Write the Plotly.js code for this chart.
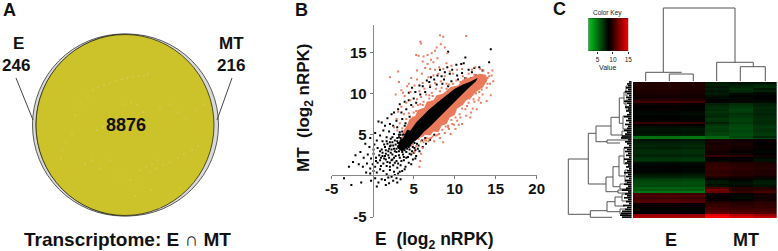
<!DOCTYPE html>
<html><head><meta charset="utf-8">
<script src="https://cdn.plot.ly/plotly-3.0.1.min.js"></script>
<style>html,body{margin:0;padding:0;background:#fff}#c{width:778px;height:251px}</style>
</head><body><div id="c"></div>
<script>
/* ---------- Panel A values ---------- */
const vennCounts = {E: "246", MT: "216", both: "8876"};
const vennSpeckX = [93,98,104,110,116,122,127,133,139,144,148,88,80,75,125,131,137,143,160,170,178,186,196,204,97,103,109,72,66,62,61,150,156,163,170,178,184,192,198,140,146,152,158,85,92,100,110,120,135,151,160,180,130,136];
const vennSpeckY = [90,87,85,83,81,79,78,77,76,75,74,96,104,115,104,102,105,112,108,104,112,118,110,104,130,127,124,134,142,150,158,172,168,165,162,158,154,150,146,170,167,164,160,164,160,168,160,176,196,190,208,188,180,184];

/* ---------- Panel B values ---------- */
const coreX = [3,3.3,3.7,4.2,4.6,5.3,6,6.8,8,9,10,11,11.8,12.8,12.6,11.6,11,10,9,8.2,7,6.2,5.6,5,4.5,4,3.6];
const coreY = [3.4,4.4,4.6,5.6,5.5,6.5,7.2,8.0,9.0,9.8,10.6,11.1,11.4,11.9,11.5,10.6,10.0,9.0,8.0,7.1,6.0,5.3,4.6,4.1,3.6,3.3,2.9];
const haloX = [3.6,4.2,4.5,5.2,5.5,6.3,6.6,7.4,7.8,8.6,9.5,10.4,11,12,13,13.8,14,13.5,12.6,12,11.4,11,10.3,10,9.4,9,8.4,8,7.4,7,6.4,6,5.2];
const haloY = [5.2,6.2,6.9,7.3,8.0,8.3,9.0,9.2,9.8,10,10.8,11,11.7,12,12.4,12.3,11.7,10.8,10.2,9.5,9.2,8.6,8.2,7.4,7.1,6.3,6.1,5.3,5.4,4.9,5,4.7,4.6];
const orangePts = [[8.2,17.1],[8.6,16.9],[5.8,16.3],[5.9,16.1],[11.4,17],[2.1,12],[3.1,12.7],[5.3,14.7],[5.6,14.6],[6.2,14.5],[6.7,14.7],[7.2,14.9],[7.6,15.2],[7.8,15.6],[8.3,16],[8.8,15.6],[9.1,14.9],[7.1,14.1],[6.7,13.6],[7.4,13.8],[7.9,14.3],[6.1,13.9],[6.4,13.1],[7.6,12.9],[8.1,13.2],[8.6,13],[9.4,12.7],[8,12.4],[7.4,12.2],[6.8,12],[8.8,12.1],[9.8,12.4],[10.3,12.9],[4.7,11.9],[5.4,11.7],[6.1,11.3],[5.1,11],[4.2,10.9],[3.5,10.4],[2.8,9.9],[3.2,11.4],[3.9,9.7],[4.6,10.2],[5.7,10.3],[6.3,10.6],[7,11],[7.6,11.3],[8.3,11.5],[9,11.2],[4.1,8.9],[4.6,9.2],[3.5,8.4],[3.1,7.8],[3.8,7.5],[2.9,6.9],[2.6,5.9],[3.3,6.4],[4.9,8.4],[5.4,9.3],[5.9,9.6],[6.5,9.9],[7.2,10.1],[12.1,12.9],[12.5,13.2],[13.1,13],[13.5,12.8],[14.1,12.5],[14.5,12.2],[14.7,11.5],[14.3,11.2],[13.9,10.7],[14.4,9.8],[13.4,9.9],[13,9.5],[12.4,9],[13.9,9.1],[14,11.9],[14.6,12.8],[13.3,10.5],[12.6,10],[11.7,8.9],[12.2,8.2],[11.3,8.1],[11.4,7.3],[10.7,7.1],[10.3,6.7],[9.9,6.2],[9.3,5.7],[8.8,5.2],[9.5,5.1],[8.2,4.6],[7.5,4.2],[7.1,4.6],[6.5,4.3],[6.2,4.1],[6.1,3.4],[5.9,2.7],[5.8,1.8],[5.7,1.1],[5.3,3.6],[4.9,3.8],[5.1,2.9],[8.6,4.1],[10.1,5.7],[10.9,6.3],[11.9,7.1],[12.7,8.1],[3.4,3.9],[3.7,4.7],[4.3,5.2],[6.6,4.6],[7.7,4.9],[9.2,6.1],[10.6,7.5],[11.5,8.5],[12.3,9.3],[13,10.2],[3,5.5],[3.6,5.8],[4.1,6.9],[4.4,7.6],[5,7.7],[5.5,8.6],[6.2,9],[6.9,9.8],[7.7,10.6],[8.4,10.7],[9.3,11.1],[10.2,11.6],[11,12.1],[11.7,12.4],[12.4,12.3],[13.2,11.9],[13.8,11.5],[14.2,12.1],[12.9,9.2],[13.2,8.9],[12,7.7],[10.5,6.2],[9.6,6.8],[8.9,6],[8.1,5.1],[7.3,4.8],[6.8,4.2],[5.6,4.5],[9,13.7],[9.6,13.4],[10.9,13],[7,13],[6,12.4],[5.4,12.8],[4.4,11.2],[3.7,10.1],[4.9,7.1],[5.3,7.9],[5.8,8.7],[6.1,8.6],[6.9,9.4],[7.3,9.7],[8.2,10.3],[9,10.6],[9.8,11.2],[10.7,11.4],[11.4,11.9],[12.3,10.1],[11.8,9.4],[10.9,8.2],[10.1,7.1],[9.7,6.3],[9.2,5.9],[8.5,5.6],[7.9,5],[6.9,4.5],[6.3,4.4],[5.9,4.2],[12.9,10.6],[13.5,11.4],[14,11.2]];
const blackPts = [[14.4,15.4],[14.2,13.8],[11.3,14.4],[11.1,13.7],[10.8,13.6],[9.2,15.1],[10.2,13.5],[12.4,13.1],[13,13.2],[13.4,12.8],[12.1,12.6],[11.7,12.9],[10.9,12.5],[10.3,12.2],[9.7,12.9],[9.4,12.4],[9.1,13.2],[8.8,12.6],[8.4,12.1],[8.2,12.9],[7.9,12.2],[7.5,11.7],[7.1,12],[6.9,11.4],[6.6,11.6],[8.7,11.7],[9.6,11.5],[10.4,11.7],[11.3,11.9],[12,11.9],[12.6,12.2],[6.1,10.9],[5.7,11],[5.2,10.2],[4.8,10.7],[4.4,10.1],[7,10.8],[7.8,11.1],[8.5,11.2],[9.2,10.9],[6.4,10.2],[5.8,9.9],[5,9.4],[4.4,9.2],[3.9,9],[3.3,8.7],[3.1,8.1],[2.6,7.7],[2.3,7.5],[1.8,7],[2.1,6.3],[1.5,6.1],[1.1,6.5],[1.3,5.5],[0.7,6.6],[3.5,7.7],[4.1,8.1],[4.7,8.6],[5.3,8.9],[2.9,6.7],[3.6,6.9],[2.5,6.1],[3,5.9],[2,5.4],[2.6,5.1],[1.7,4.7],[2.2,4.5],[1.2,4.2],[1.8,3.9],[0.9,4.9],[0.5,4.3],[0.2,3.8],[0.6,3.4],[1.1,3.2],[1.5,3.5],[2,3.3],[2.5,3.7],[3,4.2],[3.4,4.6],[3.8,5.1],[4.2,4.7],[-0.4,3.5],[-0.9,3.9],[-1.5,2.9],[-2.1,2.5],[-2.4,1.7],[-2.9,1.1],[-1.1,2.2],[-0.6,2.6],[-0.2,2.1],[0.1,2.7],[0.4,2.2],[0.8,2.5],[1.2,2.4],[1.6,2.7],[2,2.2],[2.4,2],[2.8,2.4],[3.2,3],[3.6,3.3],[4,3.7],[4.4,4],[-1.7,1.4],[-1.2,1.1],[-0.7,1.5],[-0.3,0.9],[0,1.4],[0.3,1.1],[0.6,1.6],[0.9,1.9],[1.3,1.5],[1.7,1.2],[2.1,1.6],[2.5,1.3],[2.9,1.8],[3.3,2.2],[3.7,2.6],[4.1,2.9],[4.5,3.2],[4.9,3.5],[-0.8,0.4],[-0.3,0.3],[0.1,0.6],[0.5,0.4],[0.9,0.8],[1.3,0.6],[1.7,0.2],[2.1,0.7],[2.6,0.5],[3,1],[3.4,1.3],[3.8,1.9],[4.3,2.3],[4.7,2.6],[5.2,3.1],[5.6,3.7],[1.9,-0.2],[2.3,-0.1],[2.7,0.1],[3.1,0.3],[1.5,-0.5],[1.1,-0.4],[0.7,-0.8],[0.3,-0.3],[-0.2,-0.6],[-1.4,-0.8],[-2.6,-1.1],[-3.5,-0.3],[2,-0.9],[2.5,-0.6],[3,-0.8],[3.4,-0.4],[1.6,-1.1],[0.5,-1.3],[3.6,0.6],[4,1.1],[4.4,1.6],[4.9,2],[5.3,2.4],[5.7,3],[6.1,3.5],[6.5,3.9],[7,4.4],[7.5,5],[2.2,2.8],[2.7,3],[3.1,3.6],[3.5,4],[3.9,4.4],[4.3,4.3],[4.6,4.8],[5,5],[1.4,2.1],[1.9,2.5],[2.3,3.2],[2.8,3.8],[3.2,4.7],[3.6,5.4],[4.1,5.6],[4.5,6.1],[4.9,6.6],[4,6.4],[3.3,5.3],[2.4,4.1],[1.6,3.1],[1,1.2],[0.4,1.8],[4.8,4.1],[3.4,3.3],[2.9,2.9],[3.9,3.1],[4.4,3.5],[5.1,4],[4.5,7.2],[3.9,6.1],[3.2,5],[2.2,3.7],[1.5,2.4],[0.9,3],[0.1,3.2],[-0.3,4.6],[0.3,5.2],[4.7,1.4],[5.2,2.1],[3.9,0.8],[2.9,-0.3],[3.3,0.5],
[2.1,1.1],[2.3,1.9],[2.6,2.2],[2.7,1.6],[3.1,1.5],[3.2,2.5],[3.5,1.8],[3.6,2.9],[3.8,2.3],[4.1,2.2],[4.2,3.3],[4.5,2.7],[4.6,3.7],[4.8,3],[5,2.8],[5.1,3.4],[5.4,3.9],[5.5,3.3],[6,4.3],[6.4,4.6],[1.8,1.7],[1.6,2],[1.2,2.8],[1,2.2],[1.9,3],[2.1,3.6],[2.4,2.6],[2.6,3.3],[2.9,3.3],[3.1,4],[3.3,3.6],[3.5,4.4],[3.7,3.9],[3.7,5],[3.4,5],[3,4.6],[2.7,4.3],[2.4,4.7],[2.1,4.1],[1.7,4.2],[1.4,3.8],[4,4.9],[4.2,5.3]];

/* ---------- Panel C values ---------- */
const columns = ["E1","E2","E3","MT1","MT2","MT3"];
const rowE = [9.3,9.4,9.3,9.4,9.2,9.2,9.1,8.9,9.0,9.5,10.2,8.8,8.6,8.5,8.6,8.3,8.2,8.4,8.5,8.4,8.6,9.9,8.6,8.1,7.8,7.9,8.0,7.6,4.8,4.5,7.9,7.6,7.4,7.2,7.5,7.1,7.0,7.2,7.4,6.9,6.8,7.2,8.1,8.3,8.5,8.3,8.4,8.2,7.7,7.4,6.6,6.2,6.0,5.9,6.1,5.4,5.6,4.6,10.1,10.5,10,10.4,10.7,8.7,8.6,8.5,8.4,8.6,8.5,12.4,12.8];
const rowM1 = [7.6,7.4,7.8,7.5,7.9,7.7,7.6,8.0,8.2,8.4,8.5,7.4,7.2,6.9,7.1,6.8,7.0,7.2,7.1,6.7,6.9,7.4,6.8,6.4,6.5,6.6,6.3,6.2,5.2,4.9,9.1,9.2,9.0,9.3,9.2,9.1,8.9,9.0,9.9,8.6,8.4,8.2,9.6,9.8,9.9,9.9,9.7,9.6,9.9,9.4,8.4,7.8,7.6,8.1,7.9,10.4,11.4,11.0,8.9,8.7,8.6,8.7,9.3,9.8,9.9,10.1,10.2,10.4,10.9,14.2,15];
const rowM2 = [7.9,7.6,7.3,6.9,7.2,7.5,8.2,8.4,8.3,8.2,8.4,7.0,6.8,6.6,6.3,6.5,6.9,6.7,6.6,6.4,6.3,6.6,6.2,6.1,6.0,6.2,6.0,5.9,6.2,5.4,9.0,9.0,9.2,9.0,8.9,8.8,8.6,8.9,9.6,8.5,8.7,8.4,9.4,9.5,9.6,9.7,9.5,9.4,9.5,9.1,8.7,8.2,7.9,8.0,8.3,9.4,9.5,9.9,8.7,8.3,8.2,8.6,9.2,9.5,9.7,9.8,10,10.2,10.6,13,14];
const rowM3 = [8.0,7.3,7.0,7.8,7.4,8.1,8.3,8.5,8.6,8.4,8.2,7.5,7.4,7.1,7.3,7.2,7.4,7.3,7.2,7.0,7.1,7.2,6.9,6.6,6.8,6.9,6.6,6.5,7.2,6.2,8.7,8.7,8.5,8.7,8.6,8.4,8.3,8.5,8.9,8.2,8.0,8.0,9.2,9.3,9.4,9.5,9.3,9.4,9.3,8.8,8.2,7.7,7.5,7.7,7.9,9.3,9.6,10.4,9.1,9.0,8.9,9.0,9.5,9.7,9.8,9.8,10,10.2,10.5,12.4,13.4];
const heatValues = rowE.map((v,i)=>[v,v+0.05,v-0.05,rowM1[i],rowM2[i],rowM3[i]]);
const keyValues = [2,3,4,5,6,7,8,8.5,9,10,11,12,13,14,15];
const keyTicks = [5,10,15];
const redGreen = [[0,"#00c41e"],[0.5,"#000000"],[1,"#ff0000"]];

/* dendrogram paths, given as [x...],[y...] in page units */
const dendroTop = [
 [[645.7,645.7,681.7],[81,72.3,72.3]],
 [[669.3,669.3,693.3,693.3],[81,74,74,81]],
 [[663.3,663.3,735,735],[72.3,8,8,62.3]],
 [[716.7,716.7,753.3,753.3],[81,62.3,62.3,66.7]],
 [[740.3,740.3,765.3,765.3],[81,66.7,66.7,81]]
];
const dendroLeft = [
 [[590.3,568.3,568.3,588.3],[214.3,214.3,159,159]],
 [[596,588.3,588.3,606],[133.3,133.3,184,184]],
 [[611,596,596,607],[126,126,141.7,141.7]],
 [[619.3,611,611,622],[117.3,117.3,135,135]],
 [[624,619.3,619.3,623],[98,98,123.3,123.3]],
 [[626,624,624,626],[92,92,104,104]],
 [[628,626,626,628],[86,86,96,96]],
 [[628,626,626,628],[100,100,109,109]],
 [[627,623,623,627],[116,116,129,129]],
 [[628,622,622,628],[131,131,138,138]],
 [[628,607,607,620],[140,140,143,143]],
 [[613,606,606,618],[177,177,191.7,191.7]],
 [[619,613,613,620],[166.7,166.7,186.7,186.7]],
 [[624,619,619,625],[156,156,176,176]],
 [[627,624,624,627],[148,148,164,164]],
 [[628,625,625,628],[170,170,182,182]],
 [[628,620,620,628],[184,184,189,189]],
 [[628,618,618,628],[190,190,193,193]],
 [[607,590.3,590.3,612],[210.7,210.7,217.3,217.3]],
 [[615,607,607,620],[201.7,201.7,211.7,211.7]],
 [[622,615,615,625],[197,197,206,206]],
 [[628,622,622,628],[194,194,201,201]],
 [[628,620,620,628],[209,209,214,214]]
];
const leafStart = [629,627,628,626,628,625,627,629,626,628,624,627,629,625,628,626,629,627,624,628,626,629,625,628,627,624,627,625,622,621,628,625,627,629,624,627,625,628,626,629,624,627,625,628,626,629,627,624,628,626,629,625,627,624,628,626,622,628,625,627,624,628,626,629,623,627,625,622,621,620,622];

/* ---------- Page-pixel helpers for placing the panels ---------- */
const W=778,H=251;
const dx=(a,b)=>[a/W,b/W], dy=(t,b)=>[1-b/H,1-t/H];
const FONT="Liberation Sans, Arial, sans-serif";
const pageAxes={xaxis:"x3",yaxis:"y3"};
const traces=[];

/* panel B: sparse black first, the orange cloud over it, dense black core on top */
traces.push({type:"scatter",mode:"markers",x:blackPts.map(p=>p[0]),y:blackPts.map(p=>p[1]),marker:{size:2,color:"#000",symbol:"square"},xaxis:"x",yaxis:"y"});
traces.push({type:"scatter",mode:"lines",x:haloX,y:haloY,fill:"toself",fillcolor:"#EB7A5C",line:{width:0,color:"#EB7A5C"},hoverinfo:"skip",xaxis:"x",yaxis:"y"});
traces.push({type:"scatter",mode:"markers",x:orangePts.map(p=>p[0]),y:orangePts.map(p=>p[1]),marker:{size:2,color:"#EA7D60",symbol:"square"},xaxis:"x",yaxis:"y"});
traces.push({type:"scatter",mode:"lines",x:coreX,y:coreY,fill:"toself",fillcolor:"#000",line:{width:0,color:"#000"},hoverinfo:"skip",xaxis:"x",yaxis:"y"});

/* panel C heatmap and key */
traces.push({type:"heatmap",z:heatValues,x:columns,y:rowE.map((_,i)=>i),colorscale:redGreen,zmin:2,zmax:15,showscale:false,xaxis:"x2",yaxis:"y2"});
traces.push({type:"heatmap",z:[keyValues],x:keyValues,y:[0],colorscale:redGreen,zmin:2,zmax:15,zsmooth:"best",showscale:false,xaxis:"x4",yaxis:"y4"});

/* overlay in page units: venn speckle, dendrograms */
traces.push({type:"scatter",mode:"markers",x:vennSpeckX,y:vennSpeckY,marker:{size:1.2,color:"#E0DDA8"},...pageAxes});
const path=(p,c,w)=>({type:"scatter",mode:"lines",x:p[0],y:p[1],line:{color:c,width:w},hoverinfo:"skip",...pageAxes});
dendroTop.forEach(p=>traces.push(path(p,"#555",1)));
dendroLeft.forEach(p=>traces.push(path(p,"#555",1)));
leafStart.forEach((s,i)=>{const y=82+i*1.93;traces.push(path([[s,631.6],[y,y]],"#000",1.7));});

const txt=(t,x,y,size,extra)=>Object.assign({text:t,x:x,y:y,xref:"x3",yref:"y3",showarrow:false,xanchor:"center",yanchor:"middle",font:{family:FONT,size:size,color:"#111",weight:700}},extra||{});
const annotations=[
 txt("A",9,10,18),txt("B",301,10,18),txt("C",559,9,18),
 txt("E",18,43,17),txt(vennCounts.E,16,65,17),
 txt("MT",231,43,17),txt(vennCounts.MT,231,65,17),
 txt(vennCounts.both,126,125,18),
 txt("Transcriptome: E ∩ MT",127,239,19),
 txt("MT  (log<sub>2</sub> nRPK)",305,108,17,{textangle:-90}),
 txt("E  (log<sub>2</sub> nRPK)",434,240,17.5),
 txt("E",671,240,18),txt("MT",746,240,18),
 txt("Color Key",607,13,6.5,{font:{family:FONT,size:6.5,color:"#222"}}),
 txt("Value",607,67,7,{font:{family:FONT,size:7,color:"#222"}})
];
const circle=(l,t,r,b,fill,line,w)=>({type:"circle",xref:"x3",yref:"y3",x0:l,x1:r,y0:t,y1:b,fillcolor:fill,line:{color:line,width:w},layer:"below"});
const seg=(x0,y0,x1,y1)=>({type:"line",xref:"x3",yref:"y3",x0,y0,x1,y1,line:{color:"#444",width:1},layer:"below"});
const shapes=[
 circle(32.5,34,214,216,"#D9D9D9","#333",0.8),
 circle(36,34,218.5,216,"#D9D9D9","#333",0.8),
 circle(36,34.5,214,215.5,"#CCC22A","#2a2a10",0.8),
 seg(16,78,33,120),seg(232,78,217,120),
 {type:"rect",xref:"x4",yref:"y4",x0:2,x1:15,y0:-0.5,y1:0.5,line:{color:"#222",width:0.6},fillcolor:"rgba(0,0,0,0)"}
];
const hide={visible:false,fixedrange:true};
const tickFont={family:FONT,size:15,color:"#111",weight:700};
const layout={
 width:W,height:H,margin:{l:0,r:0,t:0,b:0},paper_bgcolor:"#fff",plot_bgcolor:"rgba(0,0,0,0)",showlegend:false,hovermode:false,
 xaxis:{domain:dx(331.7,536.7),range:[-5,20],anchor:"free",position:1-174.5/H,tickvals:[-5,5,10,15,20],ticktext:["-5","5","10","15","20"],ticks:"outside",ticklen:3,tickcolor:"#777",linecolor:"#888",linewidth:1.5,showline:true,showgrid:false,zeroline:false,tickfont:tickFont,ticklabelstandoff:-3},
 yaxis:{domain:dy(24.5,217),range:[-5,18.4],anchor:"free",position:372.7/W,tickvals:[-5,5,10,15],ticktext:["-5","5","10","15"],ticks:"outside",ticklen:3,tickcolor:"#777",linecolor:"#888",linewidth:1.5,showline:true,showgrid:false,zeroline:false,tickfont:tickFont},
 xaxis2:Object.assign({domain:dx(633,776.7),anchor:"y2"},hide),
 yaxis2:Object.assign({domain:dy(82,218),anchor:"x2",autorange:"reversed"},hide),
 xaxis3:Object.assign({domain:[0,1],range:[0,W],anchor:"y3"},hide),
 yaxis3:Object.assign({domain:[0,1],range:[H,0],anchor:"x3"},hide),
 xaxis4:{domain:dx(588.3,628.3),range:[2,15],anchor:"y4",tickvals:keyTicks,ticks:"outside",ticklen:2,tickcolor:"#222",tickfont:{family:FONT,size:6.5,color:"#222"},showgrid:false,zeroline:false,showline:false,fixedrange:true},
 yaxis4:Object.assign({domain:dy(18,51),range:[-0.5,0.5],anchor:"x4"},hide),
 annotations,shapes
};
Plotly.newPlot("c",traces,layout,{displayModeBar:false,staticPlot:true});
</script></body></html>
